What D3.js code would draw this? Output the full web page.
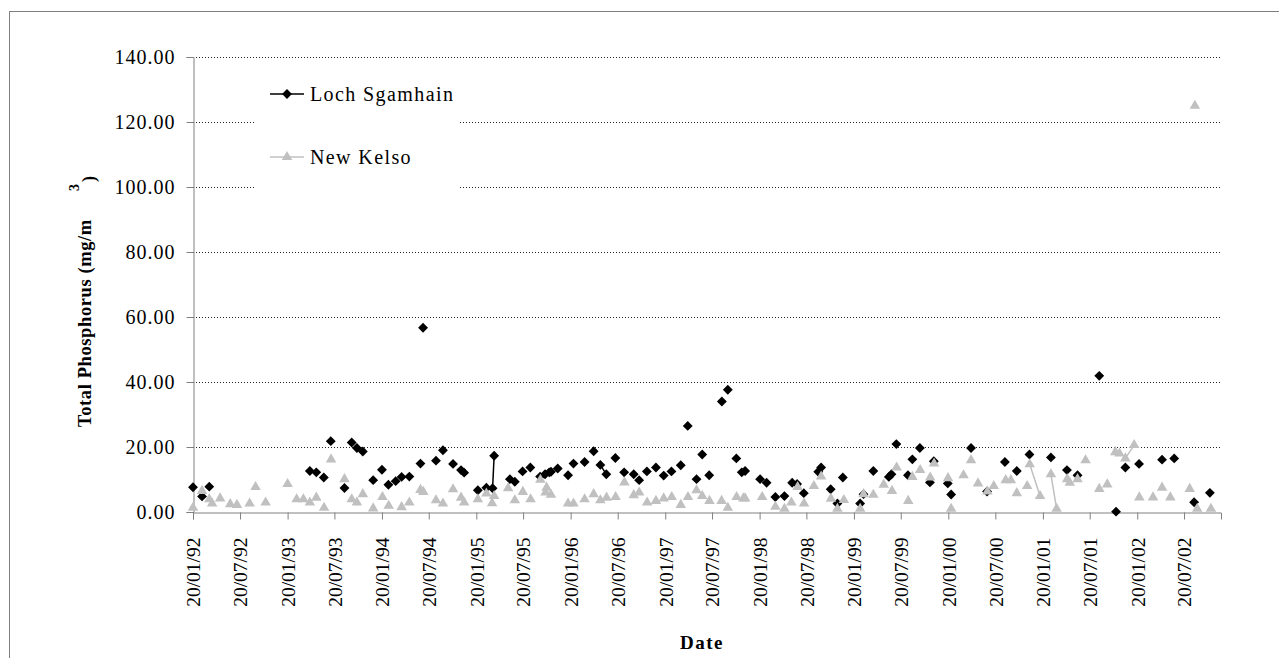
<!DOCTYPE html>
<html>
<head>
<meta charset="utf-8">
<script src="https://cdn.jsdelivr.net/npm/d3@7"></script>
<style>
  body { margin: 0; background: #fff; }
  svg { display: block; }
</style>
</head>
<body>
<div id="chart"></div>
<script>
// Loch Sgamhain (black diamonds)
const sgDates = ["1992-01-20","1992-02-24","1992-03-23","1993-04-16","1993-05-11","1993-06-09","1993-07-06","1993-08-28","1993-09-25","1993-10-15",
  "1993-11-07","1993-12-17","1994-01-20","1994-02-14","1994-03-14","1994-04-06","1994-05-06","1994-06-18","1994-06-28","1994-08-17",
  "1994-09-13","1994-10-22","1994-11-22","1994-12-04","1995-01-26","1995-02-28","1995-03-24","1995-03-30","1995-05-30","1995-06-18",
  "1995-07-18","1995-08-17","1995-09-24","1995-10-13","1995-10-29","1995-11-05","1995-12-01","1996-01-10","1996-01-31","1996-03-14",
  "1996-04-18","1996-05-14","1996-06-06","1996-07-11","1996-08-14","1996-09-20","1996-10-11","1996-11-10","1996-12-15","1997-01-14",
  "1997-02-13","1997-03-21","1997-04-17","1997-05-21","1997-06-12","1997-07-09","1997-08-27","1997-09-19","1997-10-22","1997-11-12",
  "1997-11-25","1998-01-22","1998-02-16","1998-03-22","1998-04-26","1998-05-26","1998-06-14","1998-07-10","1998-09-04","1998-09-15",
  "1998-10-22","1998-11-17","1998-12-08","1999-02-13","1999-02-26","1999-04-05","1999-06-04","1999-06-14","1999-07-03","1999-08-17",
  "1999-09-03","1999-10-02","1999-11-10","1999-11-25","2000-01-18","2000-01-31","2000-04-17","2000-06-18","2000-08-26","2000-10-11",
  "2000-11-29","2001-02-20","2001-04-23","2001-06-03","2001-08-26","2001-10-30","2001-12-05","2002-01-27","2002-04-26","2002-06-12",
  "2002-08-28","2002-10-28"];
const sgValues = [7.6,4.8,7.8,12.6,12.2,10.6,21.8,7.4,21.4,19.7,
  18.6,9.8,13.0,8.4,9.5,10.8,10.9,14.9,56.7,15.8,
  19.0,14.8,12.9,12.1,6.7,7.5,7.3,17.3,10.1,9.3,
  12.5,13.7,10.9,11.6,12.2,12.4,13.4,11.3,14.9,15.4,
  18.7,14.5,11.6,16.6,12.2,11.6,9.8,12.5,13.7,11.2,
  12.5,14.4,26.5,10.1,17.7,11.3,34.0,37.6,16.5,12.2,
  12.6,10.1,9.0,4.6,4.9,9.0,8.6,5.8,12.4,13.7,
  7.0,2.6,10.6,2.6,5.5,12.6,10.8,11.6,20.9,11.3,
  16.2,19.7,9.1,15.6,8.8,5.4,19.7,6.3,15.4,12.6,
  17.7,16.8,12.9,11.3,41.9,0.1,13.7,14.8,16.1,16.5,
  3.0,5.9];
// points joined by a line to the point before them
const sgJoined = ["1995-03-30","1996-06-06"];

// New Kelso (grey triangles)
const nkDates = ["1992-01-20","1992-02-24","1992-03-23","1992-04-03","1992-05-04","1992-06-12","1992-07-08","1992-08-26","1992-09-18","1992-10-27",
  "1993-01-20","1993-02-24","1993-03-22","1993-04-16","1993-05-11","1993-06-10","1993-07-07","1993-08-28","1993-09-25","1993-10-15",
  "1993-11-07","1993-12-17","1994-01-22","1994-02-15","1994-04-06","1994-05-06","1994-06-18","1994-06-29","1994-08-17","1994-09-13",
  "1994-10-22","1994-11-22","1994-12-04","1995-01-26","1995-02-28","1995-03-22","1995-03-30","1995-05-23","1995-06-18","1995-07-19",
  "1995-08-18","1995-09-25","1995-10-15","1995-10-19","1995-11-05","1996-01-10","1996-01-31","1996-03-14","1996-04-18","1996-05-14",
  "1996-06-07","1996-07-12","1996-08-15","1996-09-20","1996-10-11","1996-11-11","1996-12-15","1997-01-14","1997-02-14","1997-03-21",
  "1997-04-18","1997-05-21","1997-06-12","1997-07-10","1997-08-26","1997-09-19","1997-10-23","1997-11-18","1997-11-25","1998-01-30",
  "1998-03-22","1998-04-26","1998-05-23","1998-06-16","1998-07-11","1998-08-18","1998-09-15","1998-10-23","1998-11-17","1998-12-12",
  "1999-02-13","1999-02-26","1999-04-05","1999-05-15","1999-06-16","1999-07-04","1999-08-18","1999-09-03","1999-10-03","1999-11-11",
  "1999-11-26","2000-01-19","2000-01-31","2000-03-19","2000-04-17","2000-05-14","2000-06-19","2000-07-14","2000-08-29","2000-09-18",
  "2000-10-11","2000-11-20","2000-11-30","2001-01-09","2001-02-20","2001-03-14","2001-04-24","2001-05-04","2001-06-03","2001-07-04",
  "2001-08-26","2001-09-26","2001-10-27","2001-11-12","2001-12-05","2002-01-08","2002-01-28","2002-03-22","2002-04-26","2002-05-28",
  "2002-08-11","2002-08-31","2002-09-09","2002-11-01"];
const nkValues = [1.3,6.5,3.9,2.6,4.2,2.4,2.2,2.6,7.7,2.9,
  8.6,3.9,3.9,2.9,4.4,1.3,16.2,10.1,3.9,2.9,
  5.5,1.1,4.6,1.9,1.5,2.9,6.8,6.2,3.6,2.6,
  7.0,4.4,2.9,3.9,5.7,2.7,4.9,7.3,3.6,6.2,
  3.9,9.9,6.0,7.5,5.3,2.6,2.6,3.9,5.5,3.6,
  4.4,4.6,9.1,5.2,6.0,2.9,3.4,4.2,4.6,2.2,
  4.6,6.7,4.9,3.4,3.4,1.3,4.6,4.2,4.2,4.6,
  1.6,1.0,2.9,7.7,2.6,8.0,10.9,4.1,1.0,3.7,
  1.0,5.5,5.3,8.4,6.5,13.7,3.4,10.8,12.9,10.6,
  14.9,10.4,1.0,11.3,15.9,8.8,6.3,8.0,9.8,9.8,
  5.8,8.0,14.7,4.9,11.6,1.0,10.1,9.0,10.1,15.9,
  7.1,8.5,18.4,18.0,16.5,20.6,4.5,4.5,7.5,4.5,
  7.1,125.0,1.0,1.0];
const nkJoined = ["2001-01-09","2001-03-14","2002-01-08"];

const yTicks = [0, 20, 40, 60, 80, 100, 120, 140];
const xStart = "1992-01-20", xEnd = "2002-12-10";

const W = 1279, H = 658;
const plot = {left: 193, right: 1221, top: 57, bottom: 512};
const serif = "'Liberation Serif', 'Times New Roman', serif";

const parse = d3.utcParse("%Y-%m-%d");
const svg = d3.select("#chart").append("svg")
  .attr("width", W).attr("height", H)
  .attr("font-family", serif);

// outer chart frame
svg.append("rect")
  .attr("x", 9.5).attr("y", 11.5)
  .attr("width", W + 20).attr("height", H + 20)
  .attr("fill", "none").attr("stroke", "#808080");

const x = d3.scaleUtc().domain([parse(xStart), parse(xEnd)]).range([plot.left, plot.right]);
const y = d3.scaleLinear().domain([0, 140]).range([plot.bottom, plot.top]);

// dotted gridlines
svg.append("g").selectAll("line")
  .data(yTicks.filter(d => d > 0))
  .join("line")
  .attr("x1", plot.left).attr("x2", plot.right)
  .attr("y1", d => Math.round(y(d)) + 0.5).attr("y2", d => Math.round(y(d)) + 0.5)
  .attr("stroke", "#222").attr("stroke-dasharray", "1,2");

// y axis
const yAxis = svg.append("g")
  .attr("transform", `translate(${plot.left + 0.5},0)`)
  .call(d3.axisLeft(y).tickValues(yTicks).tickFormat(d3.format(".2f")).tickSizeOuter(0).tickSize(7).tickPadding(11));
yAxis.select(".domain").attr("stroke", "#808080");
yAxis.selectAll(".tick line").attr("stroke", "#808080");
yAxis.selectAll("text").attr("font-size", 20).attr("letter-spacing", 1).attr("fill", "#000").attr("font-family", serif);

// x axis ticks at 20th of Jan / Jul
const xTickVals = d3.range(0, 22).map(i => d3.utcMonth.offset(parse(xStart), i * 6));
const xAxis = svg.append("g")
  .attr("transform", `translate(0,${plot.bottom + 0.5})`)
  .call(d3.axisBottom(x).tickValues(xTickVals).tickFormat(d3.utcFormat("%d/%m/%y")).tickSizeOuter(0).tickSize(7));
xAxis.select(".domain").attr("stroke", "#808080");
xAxis.selectAll(".tick line").attr("stroke", "#808080");
xAxis.selectAll("text")
  .attr("font-size", 19.5).attr("fill", "#000").attr("font-family", serif)
  .attr("text-anchor", "end")
  .attr("transform", "rotate(-90)")
  .attr("x", -25).attr("y", 0).attr("dy", "0.35em");

// axis titles
svg.append("text")
  .attr("x", 702).attr("y", 649)
  .attr("text-anchor", "middle")
  .attr("font-weight", "bold").attr("font-size", 19).attr("letter-spacing", 1.5)
  .text("Date");

const yTitle = svg.append("g").attr("transform", "translate(91,0) rotate(-90)")
  .attr("font-weight", "bold").attr("font-size", 18.5);
yTitle.append("text").attr("x", -427).attr("y", 0).attr("letter-spacing", 0.6)
  .text("Total Phosphorus (mg/m");
yTitle.append("text").attr("x", -191).attr("y", -12).attr("font-size", 14).text("3");
yTitle.append("text").attr("x", -182).attr("y", 4).text(")");

// series
const diamond = d3.symbol(d3.symbolDiamond2 || d3.symbolDiamond, 62)();
const triangle = d3.symbol(d3.symbolTriangle, 48)();

function pts(dates, values, joined) {
  return dates.map((d, i) => ({date: parse(d), value: values[i], joined: joined.includes(d)}));
}
const series = [
  {name: "Loch Sgamhain", data: pts(sgDates, sgValues, sgJoined), color: "#000", shape: diamond},
  {name: "New Kelso", data: pts(nkDates, nkValues, nkJoined), color: "#c0c0c0", shape: triangle}
];

const line = d3.line().x(d => x(d.date)).y(d => y(d.value));

series.forEach(s => {
  const segs = [];
  s.data.forEach((d, i) => { if (d.joined && i > 0) segs.push([s.data[i - 1], d]); });
  svg.append("g").selectAll("path")
    .data(segs).join("path")
    .attr("d", line)
    .attr("fill", "none").attr("stroke", s.color).attr("stroke-width", 1.5);
  svg.append("g").selectAll("path")
    .data(s.data).join("path")
    .attr("transform", d => `translate(${x(d.date)},${y(d.value)})`)
    .attr("d", s.shape)
    .attr("fill", s.color);
});

// legend
const legend = svg.append("g");
legend.append("rect")
  .attr("x", 256).attr("y", 66).attr("width", 204).attr("height", 134)
  .attr("fill", "#fff");
const items = legend.selectAll("g.item")
  .data(series).join("g")
  .attr("class", "item")
  .attr("transform", (d, i) => `translate(270,${94 + i * 63})`);
items.append("line")
  .attr("x1", 0).attr("x2", 34)
  .attr("stroke", d => d.color).attr("stroke-width", 1.5);
items.append("path")
  .attr("transform", "translate(17,0)")
  .attr("d", d => d.shape)
  .attr("fill", d => d.color);
items.append("text")
  .attr("x", 40).attr("y", 7)
  .attr("font-size", 20).attr("letter-spacing", 1.4)
  .text(d => d.name);
</script>
</body>
</html>
